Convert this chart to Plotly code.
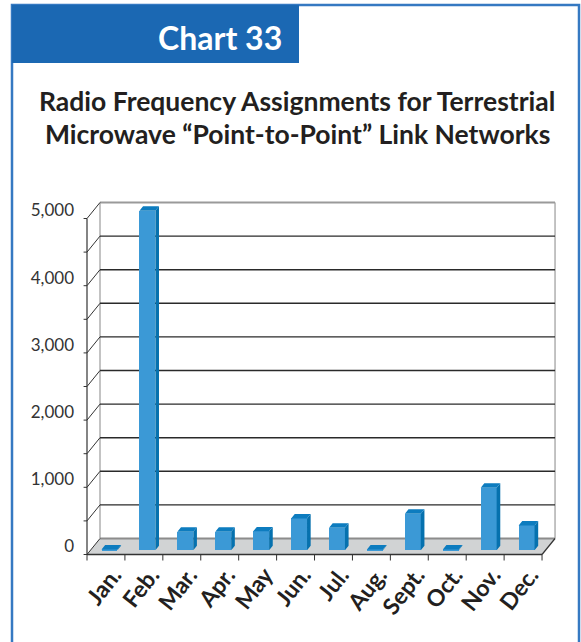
import plotly.graph_objects as go

# ---------------- data ----------------
months = ["Jan.", "Feb.", "Mar.", "Apr.", "May", "Jun.", "Jul.", "Aug.", "Sept.", "Oct.", "Nov.", "Dec."]
assignments = [10, 5050, 275, 275, 280, 472, 333, 10, 542, 10, 929, 368]
ytick_values = [0, 1000, 2000, 3000, 4000, 5000]
ytick_labels = ["0", "1,000", "2,000", "3,000", "4,000", "5,000"]
grid_values = [500, 1000, 1500, 2000, 2500, 3000, 3500, 4000, 4500]
wall_top = 5000

# ---------------- geometry ----------------
W, H = 581, 642
X0PX, XS = 87.0, 37.92      # pixel of x=0, px per category
Y0PX, YS = 554.5, 0.0672    # pixel of y=0 (front), px per unit
L, R, T, B = 77, 16, 185, 80
DX = 13 / XS                # full depth offset in x units
DY = 16 / YS                # full depth offset in y units
D0, D1 = 0.27, 0.55         # bar depth extent
BW = 0.42                   # bar width (categories)

xr = [(L - X0PX) / XS, (W - R - X0PX) / XS]
yr = [(Y0PX - (H - B)) / YS, (Y0PX - T) / YS]
pw, ph = W - L - R, H - T - B


def pxx(p):
    return (p - L) / pw


def pxy(p):
    return (H - B - p) / ph


n = len(months)
FRONT = "#3b99d6"
TOP = "#0d7cbf"
SIDE = "#0671ae"

fig = go.Figure()

# front faces of bars
xl = [i + (1 - BW) / 2 + D0 * DX for i in range(n)]
fig.add_trace(go.Bar(
    x=[v + BW / 2 for v in xl], y=assignments, base=[D0 * DY] * n, width=BW,
    marker=dict(color=FRONT, line=dict(width=0)), hoverinfo="skip", showlegend=False))

dd = D1 - D0
top_x, top_y, side_x, side_y = [], [], [], []
for x0, v in zip(xl, assignments):
    b0 = D0 * DY
    t0 = b0 + v
    x1 = x0 + BW
    top_x += [x0, x1, x1 + dd * DX, x0 + dd * DX, x0, None]
    top_y += [t0, t0, t0 + dd * DY, t0 + dd * DY, t0, None]
    side_x += [x1, x1, x1 + dd * DX, x1 + dd * DX, x1, None]
    side_y += [b0, t0, t0 + dd * DY, b0 + dd * DY, b0, None]
fig.add_trace(go.Scatter(x=side_x, y=side_y, fill="toself", fillcolor=SIDE, mode="lines",
                         line=dict(width=0, color=SIDE), hoverinfo="skip", showlegend=False))
fig.add_trace(go.Scatter(x=top_x, y=top_y, fill="toself", fillcolor=TOP, mode="lines",
                         line=dict(width=0, color=TOP), hoverinfo="skip", showlegend=False))

shapes = []
# floor
shapes.append(dict(type="path", xref="x", yref="y", layer="below",
                   path=f"M 0,0 L {n},0 L {n + DX},{DY} L {DX},{DY} Z",
                   fillcolor="#d1d3d4", line=dict(width=0)))
# back wall
shapes.append(dict(type="rect", xref="x", yref="y", layer="below", x0=DX, x1=n + DX,
                   y0=DY, y1=wall_top + DY, fillcolor="white", line=dict(width=0)))
for xv in [DX, n + DX]:
    shapes.append(dict(type="line", xref="x", yref="y", layer="below", x0=xv, x1=xv,
                       y0=DY, y1=wall_top + DY, line=dict(color="#a3a3a3", width=1.3)))
for gv in grid_values:
    shapes.append(dict(type="line", xref="x", yref="y", layer="below", x0=DX, x1=n + DX,
                       y0=gv + DY, y1=gv + DY, line=dict(color="#2a2a2a", width=1.4)))
for gv, col in [(0, "#8c8c8c"), (wall_top, "#9a9a9a")]:
    shapes.append(dict(type="line", xref="x", yref="y", layer="below", x0=DX, x1=n + DX,
                       y0=gv + DY, y1=gv + DY, line=dict(color=col, width=2)))
# left side diagonals and front axis
for gv in [0] + grid_values + [wall_top]:
    shapes.append(dict(type="line", xref="x", yref="y", layer="below", x0=0, x1=DX,
                       y0=gv, y1=gv + DY, line=dict(color="#333333", width=1)))
    shapes.append(dict(type="line", xref="x", yref="y", layer="below", x0=-0.09, x1=0,
                       y0=gv, y1=gv, line=dict(color="#333333", width=1)))
shapes.append(dict(type="line", xref="x", yref="y", layer="below", x0=0, x1=0,
                   y0=0, y1=wall_top, line=dict(color="#333333", width=1.2)))
# front floor edge, right diagonal, category ticks
shapes.append(dict(type="line", xref="x", yref="y", layer="below", x0=0, x1=n,
                   y0=0, y1=0, line=dict(color="#333333", width=1.5)))
shapes.append(dict(type="line", xref="x", yref="y", layer="below", x0=n, x1=n + DX,
                   y0=0, y1=DY, line=dict(color="#333333", width=1.2)))
for i in range(n + 1):
    shapes.append(dict(type="line", xref="x", yref="y", layer="below", x0=i, x1=i,
                       y0=0, y1=-6 / YS, line=dict(color="#333333", width=1)))

# page frame and header
shapes.append(dict(type="rect", xref="paper", yref="paper", layer="below",
                   x0=pxx(12), x1=pxx(579), y0=pxy(5), y1=pxy(660),
                   line=dict(color="#3579c2", width=2.5), fillcolor="rgba(0,0,0,0)"))
shapes.append(dict(type="rect", xref="paper", yref="paper", layer="below",
                   x0=pxx(12), x1=pxx(299), y0=pxy(5), y1=pxy(63),
                   line=dict(width=0), fillcolor="#1b68b3"))

annotations = [
    dict(text="<b>Chart 33</b>", x=pxx(220), y=pxy(38), xref="paper", yref="paper",
         showarrow=False, font=dict(family="Lato", size=32, color="white"),
         xanchor="center", yanchor="middle"),
    dict(text="<b>Radio Frequency Assignments for Terrestrial</b>", x=pxx(297), y=pxy(101),
         xref="paper", yref="paper", showarrow=False,
         font=dict(family="Lato", size=26.5, color="#231f20"), xanchor="center", yanchor="middle"),
    dict(text="<b>Microwave \u201cPoint-to-Point\u201d Link Networks</b>", x=pxx(297), y=pxy(134),
         xref="paper", yref="paper", showarrow=False,
         font=dict(family="Lato", size=26.5, color="#231f20"), xanchor="center", yanchor="middle"),
]

LABEL_SHIFT = 0.7
fig.update_layout(
    width=W, height=H, margin=dict(l=L, r=R, t=T, b=B, autoexpand=False),
    paper_bgcolor="white", plot_bgcolor="rgba(0,0,0,0)",
    bargap=0, showlegend=False, shapes=shapes, annotations=annotations,
    xaxis=dict(range=xr, showgrid=False, zeroline=False, showline=False, ticks="",
               tickvals=[i + LABEL_SHIFT for i in range(n)], ticktext=[f"<b>{m}</b>" for m in months],
               tickangle=-52,
               tickfont=dict(family="Lato", size=23, color="#231f20"),
               ticklabelstandoff=-6, automargin=False, fixedrange=True),
    yaxis=dict(range=yr, showgrid=False, zeroline=False, showline=False, ticks="",
               tickvals=[v + DY / 2 for v in ytick_values], ticktext=ytick_labels,
               tickfont=dict(family="Lato", size=17, color="#333333"),
               ticklabelstandoff=2, automargin=False, fixedrange=True),
)

fig.write_html("out.html")
